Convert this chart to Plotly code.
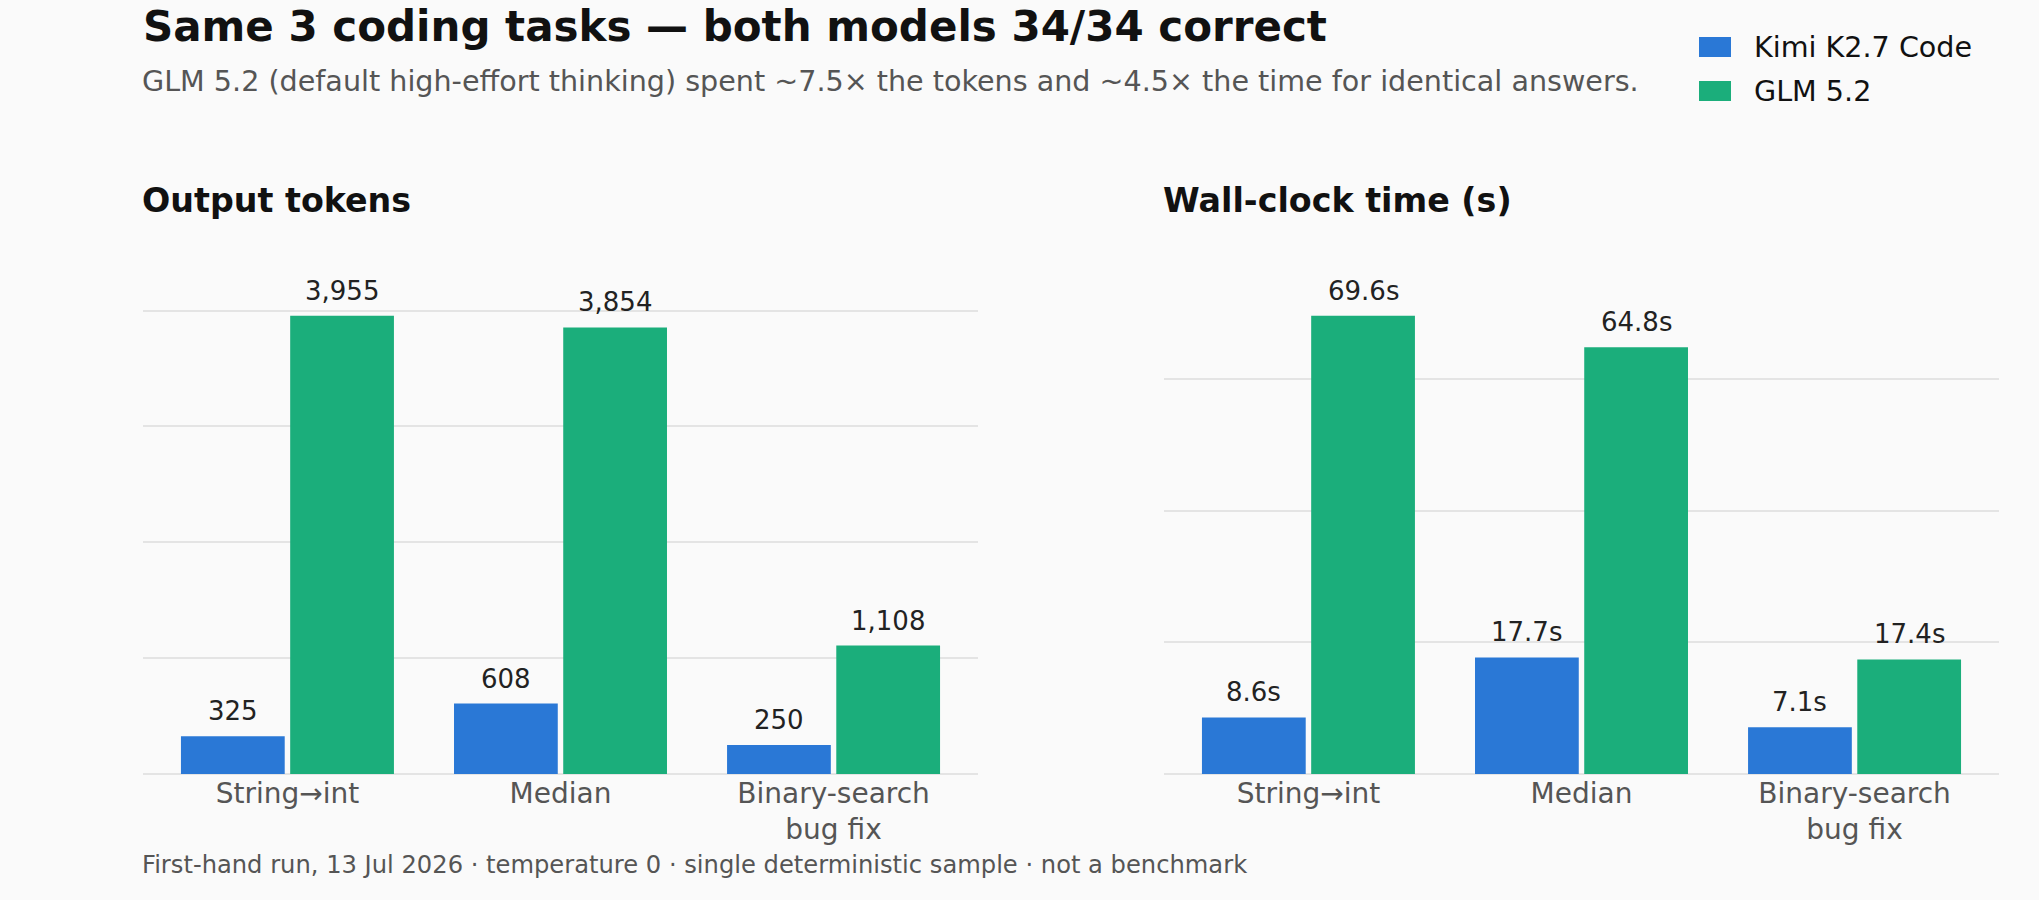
import plotly.graph_objects as go

# ---- data ----
categories = ["String→int", "Median", "Binary-search\nbug fix"]
series_names = ["Kimi K2.7 Code", "GLM 5.2"]
tokens_kimi = [325, 608, 250]
tokens_glm = [3955, 3854, 1108]
time_kimi = [8.6, 17.7, 7.1]
time_glm = [69.6, 64.8, 17.4]
token_grid = [0, 1000, 2000, 3000, 4000]
time_grid = [0, 20, 40, 60, 80]

title_text = "Same 3 coding tasks — both models 34/34 correct"
subtitle_text = ("GLM 5.2 (default high-effort thinking) spent ~7.5× the tokens "
                 "and ~4.5× the time for identical answers.")
panel_titles = ["Output tokens", "Wall-clock time (s)"]
footer_text = ("First-hand run, 13 Jul 2026 · temperature 0 · single deterministic "
               "sample · not a benchmark")

# ---- style ----
W, H = 2039, 900
FONT = "DejaVu Sans"
BLUE = "#2a78d6"
GREEN = "#1bae7b"
BG = "#fafafa"
GRID = "#e4e4e4"

cats = [c.replace("\n", "<br>") for c in categories]


def px(x):
    return x / W


def py(y):
    return 1 - y / H


fig = go.Figure()

panels = [
    ("x", "y", tokens_kimi, tokens_glm, lambda v: f"{v:,.0f}", token_grid),
    ("x2", "y2", time_kimi, time_glm, lambda v: f"{v:.1f}s", time_grid),
]
annotations = []
for xa, ya, kimi, glm, fmt, grid in panels:
    for name, vals, col, off in [(series_names[0], kimi, BLUE, -0.2),
                                 (series_names[1], glm, GREEN, 0.2)]:
        fig.add_trace(go.Bar(
            x=cats, y=vals, name=name, marker=dict(color=col, line=dict(width=0)),
            xaxis=xa, yaxis=ya, showlegend=False, hoverinfo="skip"))
        for i, v in enumerate(vals):
            annotations.append(dict(
                x=i + off, y=v, xref=xa, yref=ya, text=fmt(v), showarrow=False,
                xanchor="center", yanchor="middle", yshift=25,
                font=dict(family=FONT, size=26, color="#222")))

x_dom = [[px(143), px(978)], [px(1164), px(1999)]]
y_dom = [py(774), py(247)]

common_x = dict(type="category", range=[-0.529, 2.529], showgrid=False, zeroline=False,
                showline=False, ticks="", ticklabelstandoff=0,
                tickfont=dict(family=FONT, size=28, color="#555"), fixedrange=True)
fig.update_layout(
    xaxis=dict(domain=x_dom[0], anchor="y", **common_x),
    xaxis2=dict(domain=x_dom[1], anchor="y2", **common_x),
    yaxis=dict(domain=y_dom, anchor="x", range=[0, max(tokens_glm) * 1.15],
               tickvals=token_grid, showticklabels=False, showgrid=True,
               gridcolor=GRID, gridwidth=2, zeroline=True, zerolinecolor=GRID,
               zerolinewidth=2, showline=False),
    yaxis2=dict(domain=y_dom, anchor="x2", range=[0, max(time_glm) * 1.15],
                tickvals=time_grid, showticklabels=False, showgrid=True,
                gridcolor=GRID, gridwidth=2, zeroline=True, zerolinecolor=GRID,
                zerolinewidth=2, showline=False),
    barmode="group", bargap=0.2, bargroupgap=0.05,
)

# panel titles
for t, x0 in zip(panel_titles, [140, 1161]):
    annotations.append(dict(
        x=px(x0), y=py(200), xref="paper", yref="paper", text=f"<b>{t}</b>",
        showarrow=False, xanchor="left", yanchor="middle",
        font=dict(family=FONT, size=33.3, color="#111")))

# subtitle
annotations.append(dict(
    x=px(140), y=py(81), xref="paper", yref="paper", text=subtitle_text,
    showarrow=False, xanchor="left", yanchor="middle",
    font=dict(family=FONT, size=28.6, color="#555")))

# footer
annotations.append(dict(
    x=px(140), y=py(865), xref="paper", yref="paper", text=footer_text,
    showarrow=False, xanchor="left", yanchor="middle",
    font=dict(family=FONT, size=24.2, color="#555")))

# legend (swatches + labels)
shapes = []
for name, col, yc in [(series_names[0], BLUE, 47), (series_names[1], GREEN, 91)]:
    shapes.append(dict(type="rect", xref="paper", yref="paper",
                       x0=px(1699), x1=px(1731), y0=py(yc + 10), y1=py(yc - 10),
                       fillcolor=col, line=dict(width=0)))
    annotations.append(dict(
        x=px(1752), y=py(yc), xref="paper", yref="paper", text=name,
        showarrow=False, xanchor="left", yanchor="middle",
        font=dict(family=FONT, size=28.6, color="#111")))

fig.update_layout(
    width=W, height=H, margin=dict(l=0, r=0, t=0, b=0),
    paper_bgcolor=BG, plot_bgcolor=BG,
    title=dict(text=f"<b>{title_text}</b>", x=px(143), xanchor="left",
               y=py(26), yanchor="middle", xref="paper", yref="paper",
               font=dict(family=FONT, size=42, color="#111")),
    annotations=annotations, shapes=shapes, showlegend=False,
    font=dict(family=FONT),
)

fig.write_html("out.html")
